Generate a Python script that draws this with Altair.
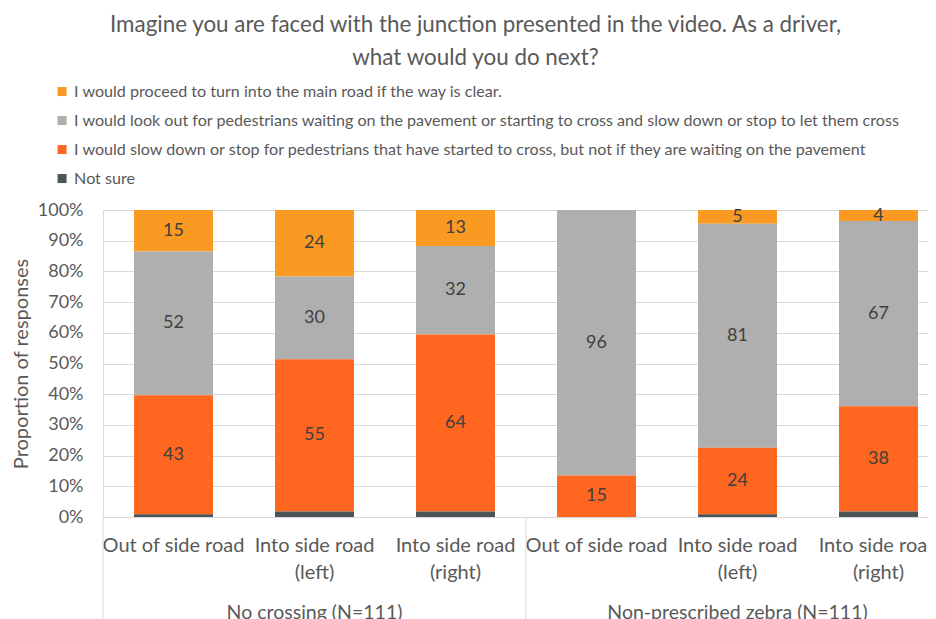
import altair as alt
import pandas as pd

# ---- data -------------------------------------------------------------
groups = ["No crossing (N=111)"] * 3 + ["Non-prescribed zebra (N=111)"] * 3
conditions = ["Out of side road", "Into side road~(left)", "Into side road~(right)"] * 2

responses = [
    "I would proceed to turn into the main road if the way is clear.",
    "I would look out for pedestrians waiting on the pavement or starting to cross and slow down or stop to let them cross",
    "I would slow down or stop for pedestrians that have started to cross, but not if they are waiting on the pavement",
    "Not sure",
]
colors = ["#FA9A22", "#AFAFAF", "#FF661F", "#4B5557"]

proceed = [15, 24, 13, 0, 5, 4]
look_out = [52, 30, 32, 96, 81, 67]
slow_down = [43, 55, 64, 15, 24, 38]
not_sure = [1, 2, 2, 0, 1, 2]

series = [proceed, look_out, slow_down, not_sure]
stack_order = [3, 2, 1, 0]  # bottom of the bar = 0

y_ticks = [0, 0.1, 0.2, 0.3, 0.4, 0.5, 0.6, 0.7, 0.8, 0.9, 1.0]

keys = [g + "|" + c for g, c in zip(groups, conditions)]

rows = []
for resp, vals, so in zip(responses, series, stack_order):
    for k, g, v in zip(keys, groups, vals):
        rows.append({"key": k, "group": g, "response": resp, "count": v, "order": so})
df = pd.DataFrame(rows)

group_names = ["No crossing (N=111)", "Non-prescribed zebra (N=111)"]
group_df = pd.DataFrame({"group": group_names, "key": [keys[1], keys[4]]})
sep_df = pd.DataFrame({"key": [keys[0], keys[3]]})

# ---- layout -------------------------------------------------------------
W, H = 825, 307
FULL_W = 846  # the original plot runs past the right edge of the picture
FONT = "Lato"
TXT = "#595959"
GRID = "#D9D9D9"

xscale = alt.Scale(domain=keys, paddingInner=0, paddingOuter=0, range=[0, FULL_W])
yscale = alt.Scale(domain=[0, 1], nice=False)

x_axis = alt.Axis(
    labelExpr="split(slice(datum.value, indexof(datum.value, '|') + 1), '~')",
    labelAngle=0,
    labelFontSize=20,
    labelColor=TXT,
    labelFont=FONT,
    labelPadding=18,
    labelLineHeight=27,
    labelLimit=300,
    labelBound=False,
    labelFlush=False,
    ticks=False,
    domain=True,
    domainColor=GRID,
    grid=False,
    title=None,
)
y_axis = alt.Axis(
    values=y_ticks,
    tickCount=11,
    format=".0%",
    labelFontSize=18,
    labelColor=TXT,
    labelFont=FONT,
    labelPadding=20,
    labelOverlap=False,
    ticks=False,
    domain=False,
    grid=True,
    gridColor=GRID,
    title="Proportion of responses",
    titleFontSize=20,
    titleFont=FONT,
    titleColor=TXT,
    titleFontWeight="normal",
    titlePadding=6,
)

base = (
    alt.Chart(df)
    .transform_stack(
        stack="count",
        groupby=["key"],
        as_=["y0", "y1"],
        sort=[alt.SortField("order", order="ascending")],
        offset="normalize",
    )
    .transform_calculate(mid="(datum.y0 + datum.y1) / 2")
)

bars = base.mark_bar(width=alt.RelativeBandSize(0.56)).encode(
    x=alt.X("key:N", sort=keys, scale=xscale, axis=x_axis),
    y=alt.Y("y0:Q", scale=yscale, axis=y_axis),
    y2="y1:Q",
    color=alt.Color(
        "response:N",
        scale=alt.Scale(domain=responses, range=colors),
        legend=alt.Legend(
            title=None,
            orient="none",
            legendX=-49,
            legendY=-126.5,
            direction="vertical",
            symbolType="square",
            symbolSize=81,
            symbolStrokeWidth=0,
            labelFontSize=16.1,
            labelFont=FONT,
            labelColor=TXT,
            labelLimit=1000,
            labelOffset=4,
            rowPadding=12,
            padding=0,
        ),
    ),
)

labels = base.transform_filter(
    "datum.response != 'Not sure' && datum['count'] > 0"
).mark_text(fontSize=18, font=FONT, color="#404040", baseline="middle").encode(
    x=alt.X("key:N", sort=keys, scale=xscale, axis=x_axis),
    y=alt.Y("mid:Q", scale=yscale, axis=y_axis),
    text=alt.Text("count:Q"),
)

group_labels = alt.Chart(group_df).mark_text(
    fontSize=19.5, font=FONT, color=TXT, baseline="middle"
).encode(
    x=alt.X("key:N", sort=keys, scale=xscale, axis=x_axis),
    y=alt.value(H + 96),
    text="group:N",
)

seps = alt.Chart(sep_df).mark_rule(color=GRID, strokeWidth=1).encode(
    x=alt.X("key:N", sort=keys, scale=xscale, bandPosition=0, axis=x_axis),
    y=alt.value(H),
    y2=alt.value(H + 120),
)

chart = (
    alt.layer(bars, labels, group_labels, seps)
    .properties(
        width=W,
        height=H,
        autosize=alt.AutoSizeParams(type="none"),
        padding={"left": 95, "top": 202, "right": 0, "bottom": 102},
        title=alt.TitleParams(
            text=[
                "Imagine you are faced with the junction presented in the video. As a driver,",
                "what would you do next?",
            ],
            fontSize=22.4,
            font=FONT,
            color=TXT,
            fontWeight="normal",
            anchor="middle",
            frame="group",
            baseline="bottom",
            dx=-40,
            dy=22,
            offset=13,
            lineHeight=33,
        ),
    )
    .configure_view(strokeWidth=0, stroke="transparent")
    .configure_axisY(labelOverlap=False)
    .configure(background="white")
)

chart.save("out.html", embed_options={"renderer": "svg", "actions": False})
